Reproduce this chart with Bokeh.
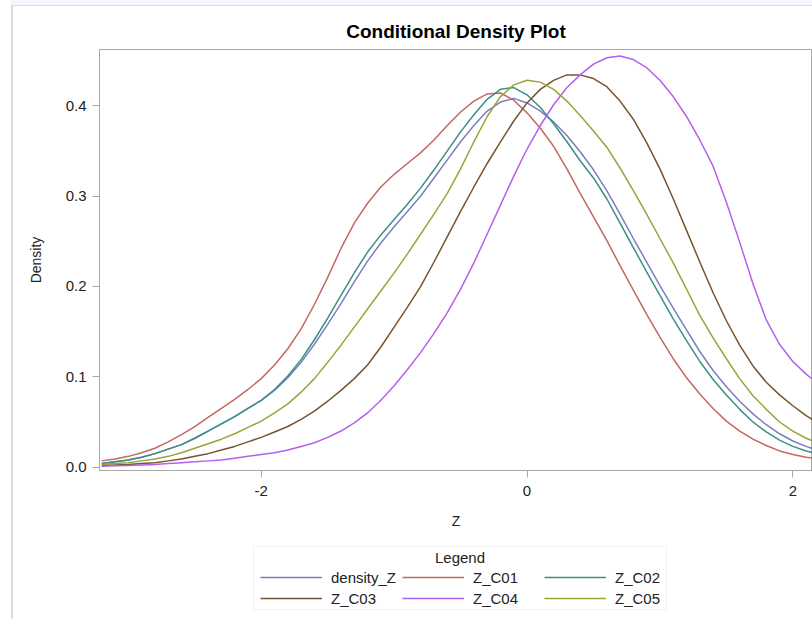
from bokeh.plotting import figure
from bokeh.layouts import column
from bokeh.models import Legend, LegendItem, Range1d, NumeralTickFormatter, Label, BoxAnnotation
from bokeh.embed import file_html
from bokeh.resources import INLINE

FONT = "Liberation Sans"

z = [-3.2, -3.1, -3.0, -2.9, -2.8, -2.7, -2.6, -2.5, -2.4, -2.3, -2.2, -2.1, -2.0, -1.9,
     -1.8, -1.7, -1.6, -1.5, -1.4, -1.3, -1.2, -1.1, -1.0, -0.9, -0.8, -0.7, -0.6, -0.5,
     -0.4, -0.3, -0.2, -0.1, 0.0, 0.1, 0.2, 0.3, 0.4, 0.5, 0.6, 0.7, 0.8, 0.9, 1.0, 1.1,
     1.2, 1.3, 1.4, 1.5, 1.6, 1.7, 1.8, 1.9, 2.0, 2.1, 2.2]

density_Z = [0.004, 0.006, 0.008, 0.011, 0.015, 0.020, 0.025, 0.032, 0.040, 0.048, 0.056, 0.065,
             0.074, 0.085, 0.099, 0.116, 0.136, 0.158, 0.181, 0.205, 0.228, 0.248, 0.266, 0.283,
             0.300, 0.320, 0.340, 0.360, 0.378, 0.394, 0.404, 0.408, 0.403, 0.394, 0.382, 0.367,
             0.349, 0.329, 0.306, 0.280, 0.253, 0.227, 0.201, 0.176, 0.152, 0.128, 0.107, 0.089,
             0.073, 0.059, 0.047, 0.037, 0.029, 0.023, 0.018]
Z_C01 = [0.007, 0.009, 0.012, 0.016, 0.021, 0.028, 0.036, 0.045, 0.055, 0.065, 0.075, 0.086,
         0.098, 0.113, 0.131, 0.153, 0.180, 0.210, 0.242, 0.270, 0.292, 0.310, 0.324, 0.336,
         0.348, 0.362, 0.378, 0.393, 0.405, 0.413, 0.414, 0.406, 0.392, 0.375, 0.355, 0.330,
         0.303, 0.277, 0.251, 0.223, 0.196, 0.169, 0.144, 0.120, 0.099, 0.081, 0.065, 0.051,
         0.040, 0.031, 0.024, 0.018, 0.014, 0.011, 0.009]
Z_C02 = [0.004, 0.006, 0.008, 0.011, 0.015, 0.020, 0.025, 0.032, 0.040, 0.048, 0.056, 0.065,
         0.074, 0.086, 0.101, 0.119, 0.141, 0.165, 0.190, 0.215, 0.238, 0.257, 0.274, 0.291,
         0.309, 0.329, 0.350, 0.371, 0.390, 0.407, 0.418, 0.420, 0.412, 0.398, 0.380, 0.360,
         0.339, 0.320, 0.297, 0.270, 0.243, 0.216, 0.190, 0.164, 0.140, 0.117, 0.097, 0.080,
         0.064, 0.050, 0.039, 0.030, 0.023, 0.018, 0.014]
Z_C03 = [0.002, 0.0025, 0.003, 0.004, 0.005, 0.007, 0.009, 0.012, 0.015, 0.019, 0.023, 0.028,
         0.033, 0.039, 0.045, 0.053, 0.062, 0.073, 0.085, 0.098, 0.113, 0.133, 0.155, 0.177,
         0.200, 0.227, 0.255, 0.283, 0.310, 0.336, 0.360, 0.383, 0.403, 0.418, 0.428, 0.434,
         0.434, 0.430, 0.421, 0.405, 0.385, 0.359, 0.330, 0.297, 0.262, 0.227, 0.193, 0.162,
         0.135, 0.112, 0.094, 0.080, 0.068, 0.057, 0.048]
Z_C04 = [0.001, 0.0015, 0.002, 0.0025, 0.003, 0.004, 0.005, 0.006, 0.007, 0.008, 0.010, 0.012,
         0.014, 0.016, 0.019, 0.023, 0.027, 0.033, 0.040, 0.049, 0.060, 0.074, 0.090, 0.108,
         0.127, 0.148, 0.171, 0.197, 0.226, 0.258, 0.290, 0.322, 0.352, 0.378, 0.401, 0.420,
         0.434, 0.446, 0.453, 0.455, 0.451, 0.442, 0.428, 0.410, 0.388, 0.362, 0.333, 0.293,
         0.249, 0.203, 0.163, 0.136, 0.117, 0.103, 0.091]
Z_C05 = [0.003, 0.004, 0.005, 0.007, 0.009, 0.012, 0.016, 0.021, 0.026, 0.031, 0.037, 0.044,
         0.051, 0.060, 0.070, 0.083, 0.098, 0.116, 0.135, 0.155, 0.175, 0.195, 0.215, 0.236,
         0.258, 0.280, 0.303, 0.330, 0.360, 0.388, 0.410, 0.423, 0.428, 0.426, 0.418, 0.405,
         0.389, 0.372, 0.354, 0.331, 0.306, 0.280, 0.253, 0.226, 0.197, 0.168, 0.143, 0.120,
         0.098, 0.079, 0.064, 0.050, 0.040, 0.032, 0.026]

series_names = ["density_Z", "Z_C01", "Z_C02", "Z_C03", "Z_C04", "Z_C05"]
series_values = [density_Z, Z_C01, Z_C02, Z_C03, Z_C04, Z_C05]
colors = ["#7880bf", "#c46860", "#3a8f86", "#78532e", "#b460ee", "#99a43c"]

x_ticks = [-2, 0, 2]
x_tick_labels = ["-2", "0", "2"]
y_ticks = [0.0, 0.1, 0.2, 0.3, 0.4]

p = figure(width=812, height=540, output_backend="svg", toolbar_location=None,
           x_range=Range1d(-3.217, 2.148), y_range=Range1d(-0.00365, 0.4621),
           min_border_left=99, min_border_right=0, min_border_top=49, min_border_bottom=70,
           title="Conditional Density Plot")
p.border_fill_color = None
p.background_fill_color = "#ffffff"

p.title.text_font = FONT
p.title.text_font_size = "19px"
p.title.text_font_style = "bold"
p.title.align = "center"
p.title.text_color = "#000000"
p.title.standoff = 15

p.xgrid.visible = False
p.ygrid.visible = False
p.outline_line_color = "#a8a8a8"
p.outline_line_width = 1

for ax in (p.xaxis[0], p.yaxis[0]):
    ax.axis_line_color = "#a8a8a8"
    ax.major_tick_line_color = "#a8a8a8"
    ax.minor_tick_line_color = None
    ax.major_tick_out = 7
    ax.major_tick_in = 0
    ax.major_label_text_font = FONT
    ax.major_label_text_font_size = "15px"
    ax.major_label_text_color = "#222222"
    ax.axis_label_text_font = FONT
    ax.axis_label_text_font_size = "14px"
    ax.axis_label_text_font_style = "normal"
    ax.axis_label_text_color = "#222222"

p.xaxis.ticker = x_ticks
p.xaxis.major_label_overrides = dict(zip(x_ticks, x_tick_labels))
p.yaxis.ticker = y_ticks
p.yaxis.formatter = NumeralTickFormatter(format="0.0")
p.xaxis.axis_label = "Z"
p.yaxis.axis_label = "Density"
p.xaxis.major_label_standoff = 8
p.yaxis.major_label_standoff = 6
p.xaxis.axis_label_standoff = 14
p.yaxis.axis_label_standoff = 19

for vals, col in zip(series_values, colors):
    p.line(z, vals, line_color=col, line_width=1.5)

# legend panel below the chart (its frame is aligned with the chart frame: x 99..812)
lf = figure(width=812, height=79, output_backend="svg", toolbar_location=None,
            x_range=Range1d(99, 812), y_range=Range1d(0, 79), min_border=0,
            min_border_left=99, x_axis_location=None, y_axis_location=None)
lf.xgrid.visible = False
lf.ygrid.visible = False
lf.outline_line_color = None
lf.border_fill_color = None
lf.background_fill_color = None

items = []
for name, vals, col in zip(series_names, series_values, colors):
    # proxy lines for the legend keys (the series lie outside this panel's view)
    r = lf.line(z, vals, line_color=col, line_width=1.5)
    items.append(LegendItem(label=name, renderers=[r]))

box = BoxAnnotation(left=253, right=666, bottom=10, top=73,
                    fill_alpha=0, line_color="#d0d0d0", line_width=1)
lf.add_layout(box)

legend_title = Label(x=459.5, y=62, text="Legend", text_align="center", text_baseline="middle",
                     text_font=FONT, text_font_size="15px", text_color="#222222")
lf.add_layout(legend_title)

legend = Legend(items=items, orientation="horizontal", nrows=2, location=(161, 12),
                glyph_width=62, glyph_height=18, label_height=18, label_width=68,
                label_standoff=9, spacing=3, padding=7, margin=0)
legend.border_line_color = None
legend.background_fill_alpha = 0
legend.label_text_font = FONT
legend.label_text_font_size = "15px"
legend.label_text_color = "#222222"
lf.add_layout(legend, "center")

page_styles = {
    "background-image": ("linear-gradient(#dcdcdc, #dcdcdc), linear-gradient(#dcdcdc, #dcdcdc), "
                         "linear-gradient(#f5f7fc, #f5f7fc)"),
    "background-size": "2px 100%, 100% 1px, 100% 5px",
    "background-position": "11px 5px, 11px 5px, 11px 0px",
    "background-repeat": "no-repeat",
}
page = column(p, lf, spacing=0, styles=page_styles)
open("out.html", "w").write(file_html(page, INLINE))
